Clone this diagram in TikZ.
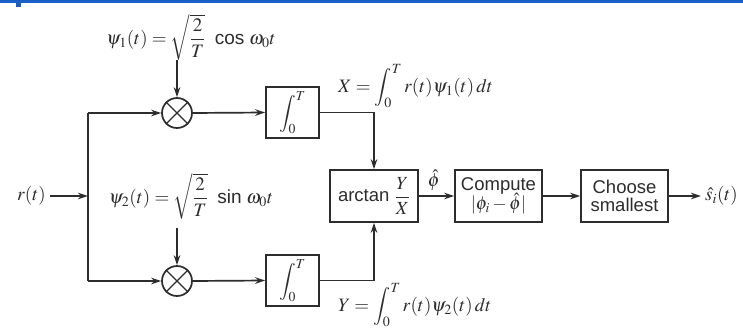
\documentclass[tikz,border=0pt]{standalone}
\usepackage{amsmath}
\usepackage{mathptmx}
\usepackage[no-math]{fontspec}
\setmainfont{Liberation Serif}
\setsansfont{Liberation Sans}
\usetikzlibrary{arrows.meta}
\definecolor{ink}{RGB}{45,45,45}
\definecolor{topblue}{RGB}{25,95,200}
\tikzset{
  conn/.style={draw=ink, line width=1.7pt},
  arr/.style={conn, -{Stealth[length=10pt,width=6.5pt]}},
  blockbox/.style={draw=ink, line width=1.7pt, minimum height=52pt, inner sep=2pt, align=center, font=\sffamily\fontsize{18.5}{20}\selectfont, text=ink},
  mult/.style={draw=ink, line width=1.7pt, circle, minimum size=30pt, inner sep=0pt},
  lbl/.style={text=ink, inner sep=0pt, font=\fontsize{19}{21}\selectfont},
}
\begin{document}
\begin{tikzpicture}[x=1pt,y=-1pt]
\useasboundingbox (0,0) rectangle (743,329);
\clip (0,0) rectangle (743,329);
\fill[white] (0,0) rectangle (743,329);
\fill[topblue] (0,0) rectangle (743,3);
\fill[topblue] (16,0) rectangle (21,7);

% multipliers
\node[mult] (m1) at (177,113) {};
\node[mult] (m2) at (177,281) {};
\foreach \m in {m1,m2}{
  \draw[conn, line width=1.2pt] (\m.north east) -- (\m.south west);
  \draw[conn, line width=1.2pt] (\m.north west) -- (\m.south east);
}

% integrators
\node[blockbox, minimum width=53pt, minimum height=51pt] (i1) at (292.5,112.5) {$\displaystyle\int_0^T$};
\node[blockbox, minimum width=53pt, minimum height=51pt] (i2) at (292.5,280.5) {$\displaystyle\int_0^T$};

% main blocks
\node[blockbox, minimum width=88pt] (at) at (374,196) {arctan $\dfrac{Y}{X}$};
\node[blockbox, minimum width=87pt] (cp) at (498.5,196) {Compute\\[-2pt]$|\phi_i-\hat\phi|$};
\node[blockbox, minimum width=87pt] (ch) at (624.5,196) {Choose\\[-2pt]smallest};

% labels
\node[lbl] (psi1) at (191,37) {$\psi_1(t)=\sqrt{\dfrac{2}{T}}$\ \ \textsf{cos} $\omega_0 t$};
\node[lbl] (psi2) at (191,196) {$\psi_2(t)=\sqrt{\dfrac{2}{T}}$\ \ \textsf{sin} $\omega_0 t$};
\node[lbl, anchor=east] (r) at (46,196) {$r(t)$};
\node[lbl, anchor=west] (xl) at (338,86) {$X=\displaystyle\int_0^T r(t)\psi_1(t)\,dt$};
\node[lbl, anchor=west] (yl) at (338,305) {$Y=\displaystyle\int_0^T r(t)\psi_2(t)\,dt$};
\node[lbl] (ph) at (434,180) {$\hat\phi$};
\node[lbl, anchor=west] (out) at (705,196) {$\hat s_i(t)$};

% coordinates
\coordinate (sT) at (88,113);
\coordinate (sB) at (88,281);
\coordinate (sM) at (88,196);
\coordinate (rs) at (50,196);
\coordinate (p1) at (177,60);
\coordinate (p2) at (177,228);
\coordinate (oe) at (701,196);

% connectors
\draw[conn] (sT) -- (sB);
\draw[arr] (rs) -- (sM);
\draw[arr] (sT) -- (m1.west);
\draw[arr] (sB) -- (m2.west);
\draw[arr] (p1) -- (m1.north);
\draw[arr] (p2) -- (m2.north);
\draw[arr] (m1.east) -- (i1.west);
\draw[arr] (m2.east) -- (i2.west);
\draw[arr] (i1.east) -| (at.north);
\draw[arr] (i2.east) -| (at.south);
\draw[arr] (at.east) -- (cp.west);
\draw[arr] (cp.east) -- (ch.west);
\draw[arr] (ch.east) -- (oe);
\end{tikzpicture}
\end{document}
